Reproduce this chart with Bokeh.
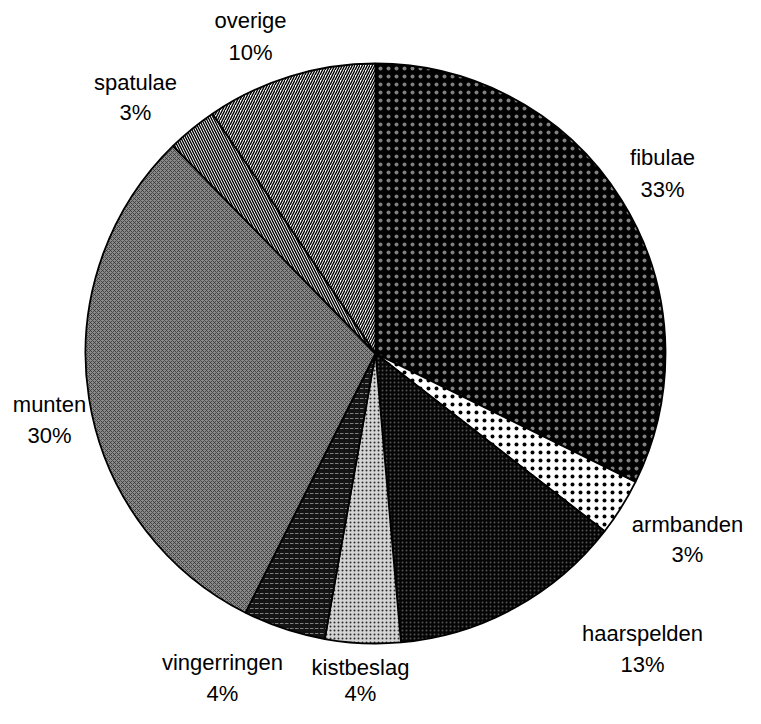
import math
from bokeh.plotting import figure
from bokeh.models import Range1d, ColumnDataSource
from bokeh.core.properties import value
from bokeh.embed import file_html
from bokeh.resources import INLINE

# data (shares; printed labels as shown)
categories = ["fibulae", "armbanden", "haarspelden", "kistbeslag",
              "vingerringen", "munten", "spatulae", "overige"]
shares = [32.3, 3.2, 13.1, 4.2, 4.6, 30.3, 2.8, 9.5]
pct_labels = ["33%", "3%", "13%", "4%", "4%", "30%", "3%", "10%"]

# styles
fills = ["#000000", "#ffffff", "#050505", "#d4d4d4", "#141414", "#8a8a8a", "#ffffff", "#ffffff"]
hatches = ["dot", "dot", "dot", "dot", "horizontal_dash", "diagonal_cross",
           "left_diagonal_line", "right_diagonal_line"]
hatch_colors = ["#ffffff", "#000000", "#ffffff", "#000000", "#ffffff", "#333333", "#000000", "#000000"]
hatch_alphas = [0.5, 1.0, 0.3, 0.8, 0.45, 0.8, 1.0, 1.0]
hatch_scales = [8, 8, 4, 4, 5, 4, 5, 5]
hatch_weights = [1, 1.2, 1, 1, 1, 1, 1.4, 1.4]

# label positions (page pixels from top; alphabetic baselines)
label_x = [670, 695, 650, 368, 230, 57, 143, 258]
name_base = [165, 532, 641, 675, 670, 412, 90, 28]
pct_base = [197, 562, 672, 701, 701, 443, 120, 60]

W, H = 745, 708
p = figure(width=W, height=H, output_backend="svg", toolbar_location=None,
           x_range=Range1d(8, 8 + W), y_range=Range1d(8, 8 + H),
           min_border=0, outline_line_color=None)
p.axis.visible = False
p.grid.visible = False
p.background_fill_color = "white"

PAGE_H = 724
cx, cy, r = 383, PAGE_H - 361, 290

total = sum(shares)
cum = 0.0
starts, ends = [], []
for s in shares:
    a0 = math.pi / 2 - 2 * math.pi * cum / total
    cum += s
    a1 = math.pi / 2 - 2 * math.pi * cum / total
    starts.append(a1)
    ends.append(a0)

src = ColumnDataSource(dict(start=starts, end=ends, fill=fills, hatch=hatches,
                            hcol=hatch_colors, halpha=hatch_alphas,
                            hscale=hatch_scales, hw=hatch_weights))
p.wedge(x=cx, y=cy, radius=r, start_angle="start", end_angle="end", source=src,
        fill_color="fill", hatch_pattern="hatch", hatch_color="hcol",
        hatch_alpha="halpha", hatch_scale="hscale", hatch_weight="hw",
        line_color="black", line_width=1.8)

p.text(x=label_x, y=[PAGE_H - y for y in name_base], text=categories,
       text_font=value("Liberation Sans"), text_font_size="22px",
       text_align="center", text_baseline="alphabetic", text_color="black")
p.text(x=label_x, y=[PAGE_H - y for y in pct_base], text=pct_labels,
       text_font=value("Liberation Sans"), text_font_size="22px",
       text_align="center", text_baseline="alphabetic", text_color="black")

open("out.html", "w").write(file_html(p, INLINE))
